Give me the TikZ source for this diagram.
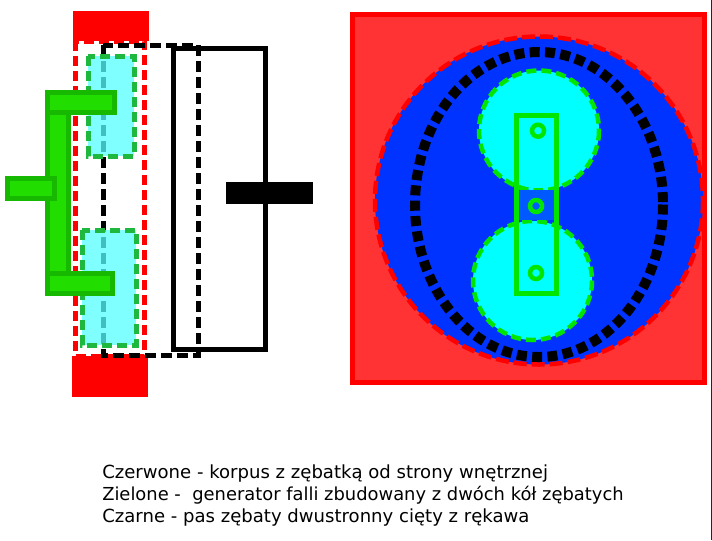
\documentclass[tikz,border=0pt]{standalone}
\usepackage{fontspec}
\setmainfont{DejaVu Sans}
\definecolor{rd}{HTML}{FF0000}
\definecolor{rdfill}{HTML}{FF3333}
\definecolor{bluef}{HTML}{0033FF}
\definecolor{bluemid}{HTML}{0058FF}
\definecolor{gearg}{HTML}{00E600}
\definecolor{gearf}{HTML}{00FFFF}
\definecolor{dkg}{HTML}{1FB83F}
\definecolor{armf}{HTML}{22DD00}
\definecolor{arms}{HTML}{17B800}
\definecolor{cy}{HTML}{55FFFF}
\tikzset{
 x=0.75pt,y=-0.75pt,
 px/.style={line width=#1*0.75pt},
 reddash/.style={draw=rd,px=5,dash pattern=on 7.5pt off 3.75pt},
 blackdash/.style={draw=black,px=5,dash pattern=on 8pt off 4pt},
 sidegear/.style={fill=cy,fill opacity=.75,draw=dkg,px=5,draw opacity=1,dash pattern=on 7.5pt off 3.75pt},
 arm/.style={fill=armf,draw=arms,px=5},
 gear/.style={fill=gearf,draw=gearg,px=4.5,dash pattern=on 7.5pt off 3.75pt},
 ring/.style={circle,draw=gearg,px=4.5,minimum size=9pt,inner sep=0pt},
 lbl/.style={anchor=base west,inner sep=0pt,font=\fontsize{13.55pt}{16pt}\selectfont,text=black}
}
\begin{document}
\begin{tikzpicture}
\useasboundingbox (0,0) rectangle (712,540);
\path[fill=white] (0,0) rectangle (712,540);
\draw[px=1.3,draw=black!85] (711.3,0) -- (711.3,540);
% left view
\path[fill=rd] (73,11) rectangle (149,41);
\path[fill=rd] (72,356) rectangle (148,397);
\draw[reddash] (75.5,41) rectangle (144.5,356);
\draw[blackdash] (103,45) rectangle (198,355);
\draw[draw=black,px=5] (173,48.5) rectangle (265.5,349);
\path[fill=black] (226,182) rectangle (313,204);
\path[sidegear] (88,56) rectangle (134,156);
\path[sidegear] (82,230) rectangle (136,345);
\draw[arm] (47.5,112) rectangle (68,274);
\draw[arm] (47,92.5) rectangle (114,112.5);
\draw[arm] (7.5,178.5) rectangle (54.5,198);
\draw[arm] (47.5,273.5) rectangle (112.5,293);
% right view
\draw[draw=rd,px=5,fill=rdfill] (352.5,14) rectangle (704.5,382);
\draw[fill=bluef,draw=rd,px=4.5,dash pattern=on 9.75pt off 3.75pt] (539,200.5) ellipse (164 and 164);
\draw[draw=black,px=10,dash pattern=on 7.5pt off 4pt] (539,204.5) ellipse (124 and 152.5);
\path[gear] (539,130.5) circle (60);
\path[gear] (532.5,280.5) circle (59.5);
\path[fill=bluemid] (518.5,190) rectangle (555,220);
\draw[draw=gearg,px=4.5] (516.7,115.5) rectangle (556.7,293.5);
\node[ring,fill=gearf] (r1) at (538,130.7) {};
\node[ring,fill=bluemid] (r2) at (536,206) {};
\node[ring,fill=gearf] (r3) at (536,273) {};
% legend
\node[lbl] (t1) at (102,478) {Czerwone - korpus z zębatką od strony wnętrznej};
\node[lbl,font=\fontsize{13.42pt}{16pt}\selectfont] (t2) at (102,500) {Zielone -\ \ generator falli zbudowany z dwóch kół zębatych};
\node[lbl] (t3) at (102,522) {Czarne - pas zębaty dwustronny cięty z rękawa};
\end{tikzpicture}
\end{document}
